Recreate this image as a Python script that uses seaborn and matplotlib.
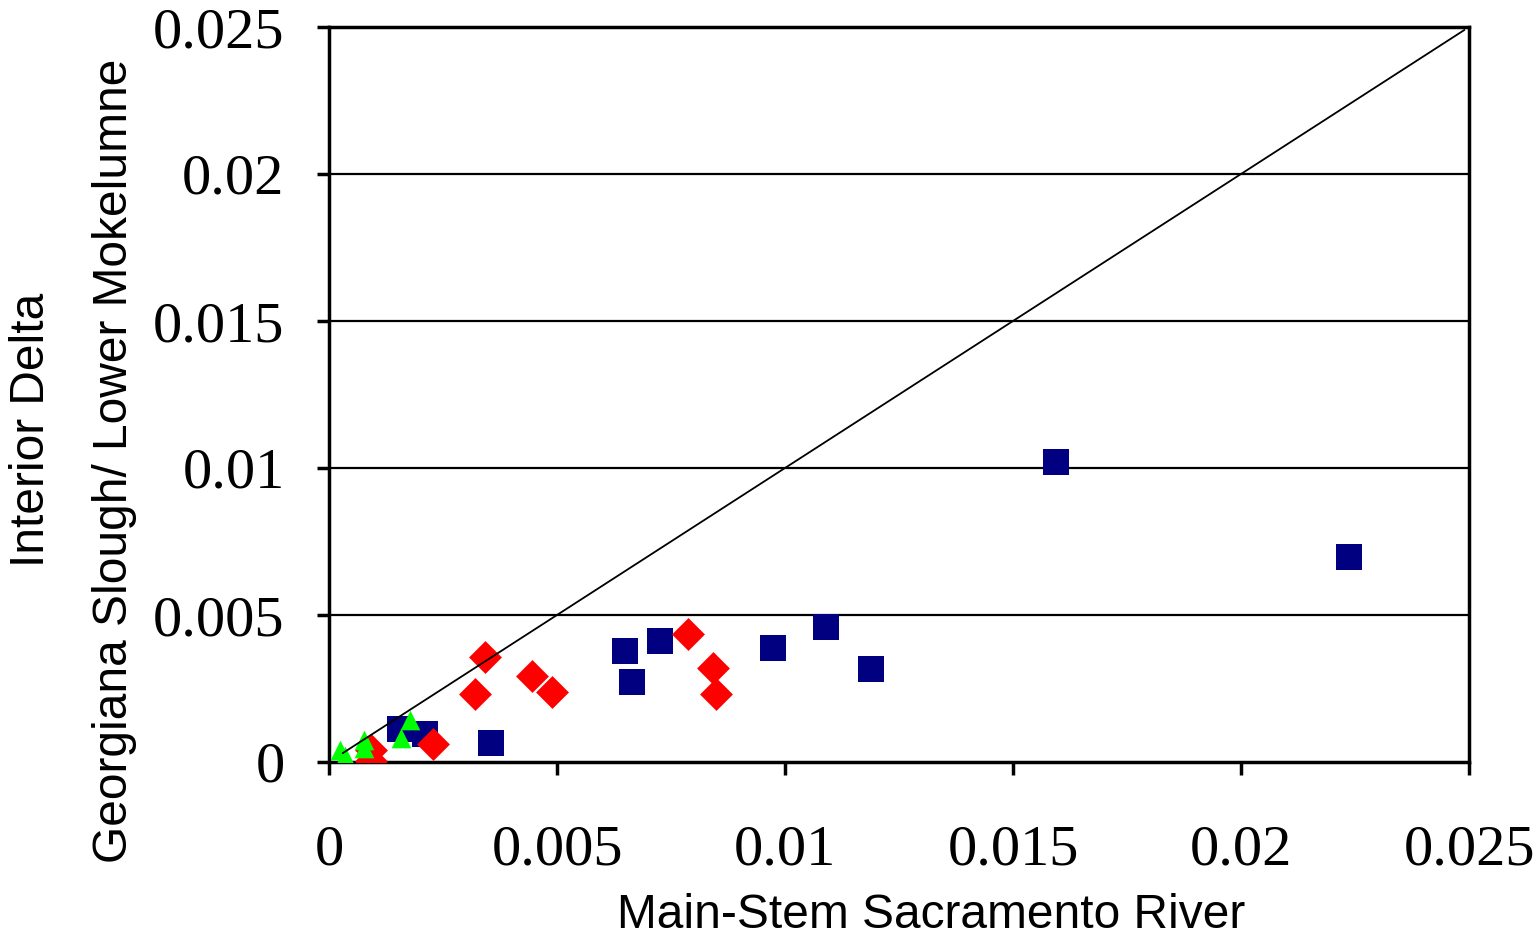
import matplotlib
matplotlib.use("Agg")
import matplotlib.pyplot as plt
import seaborn as sns
import pandas as pd

# Data
blue_x = [0.00155, 0.0021, 0.00356, 0.0065, 0.00665, 0.00725, 0.00973, 0.01089, 0.01188, 0.01594, 0.02237]
blue_y = [0.00111, 0.00094, 0.00066, 0.00378, 0.00271, 0.00413, 0.00388, 0.00459, 0.00316, 0.0102, 0.00697]
red_x = [0.000925, 0.00092, 0.00228, 0.00343, 0.00321, 0.00446, 0.00489, 0.00787, 0.00842, 0.00848]
red_y = [0.00041, 0.00005, 0.00061, 0.00356, 0.00231, 0.00294, 0.00239, 0.00434, 0.00321, 0.00231]
green_x = [0.00025, 0.00035, 0.00076, 0.00076, 0.00157, 0.00178]
green_y = [0.0004, 0.0002, 0.00075, 0.00048, 0.0008, 0.00143]
line_x = [0.0003, 0.0249]
line_y = [0.0003, 0.0249]
ticks = [0, 0.005, 0.01, 0.015, 0.02, 0.025]
tick_labels = ["0", "0.005", "0.01", "0.015", "0.02", "0.025"]

sns.set_theme(style="white")
plt.rcParams['font.family'] = ['Liberation Sans', 'DejaVu Sans']
plt.rcParams['text.color'] = 'black'
plt.rcParams['xtick.color'] = 'black'
plt.rcParams['ytick.color'] = 'black'
plt.rcParams['xtick.labelcolor'] = 'black'
plt.rcParams['ytick.labelcolor'] = 'black'

fig = plt.figure(figsize=(15.37, 9.4), dpi=100)
ax = fig.add_axes([329 / 1537, 1 - 762 / 940, (1469 - 329) / 1537, (762 - 27) / 940])

dfb = pd.DataFrame({"x": blue_x, "y": blue_y})
dfr = pd.DataFrame({"x": red_x, "y": red_y})
dfg = pd.DataFrame({"x": green_x, "y": green_y})
sns.scatterplot(data=dfb, x="x", y="y", ax=ax, marker="s", s=330, color="#000080", linewidth=0, zorder=3)
sns.scatterplot(data=dfr, x="x", y="y", ax=ax, marker="D", s=280, color="#FF0000", linewidth=0, zorder=4)
sns.scatterplot(data=dfg, x="x", y="y", ax=ax, marker="^", s=200, color="#00FF00", linewidth=0, zorder=5)
sns.lineplot(x=line_x, y=line_y, ax=ax, color="black", linewidth=1.3, zorder=6)

ax.set_xlim(0, 0.025)
ax.set_ylim(0, 0.025)
ax.set_xticks(ticks)
ax.set_yticks(ticks)
ax.set_xticklabels(tick_labels, fontfamily="Liberation Serif", fontsize=42, color="black")
ax.set_yticklabels(tick_labels, fontfamily="Liberation Serif", fontsize=42, color="black")
ax.tick_params(axis="x", direction="out", length=9, width=2.5, color="black", pad=36, bottom=True)
ax.tick_params(axis="y", direction="out", length=9, width=2.5, color="black", pad=23, left=True)
ax.grid(False)
for yv in ticks[1:-1]:
    ax.axhline(yv, color="black", linewidth=1.6, zorder=1)
for sp in ax.spines.values():
    sp.set_visible(True)
    sp.set_color("black")
    sp.set_linewidth(2.5)
ax.set_xlabel("")
ax.set_ylabel("")

fig.text((617 + 1245) / 2 / 1537, 1 - 915 / 940, "Main-Stem Sacramento River",
         ha="center", va="center", fontsize=34.5, fontfamily="Liberation Sans", color="black")
fig.text(32 / 1537, 1 - 430 / 940, "Interior Delta", rotation=90,
         ha="center", va="center", fontsize=34.5, fontfamily="Liberation Sans", color="black")
fig.text(115 / 1537, 1 - 461 / 940, "Georgiana Slough/ Lower Mokelumne", rotation=90,
         ha="center", va="center", fontsize=34.5, fontfamily="Liberation Sans", color="black")

fig.savefig("out.png", dpi=100, facecolor="white")
